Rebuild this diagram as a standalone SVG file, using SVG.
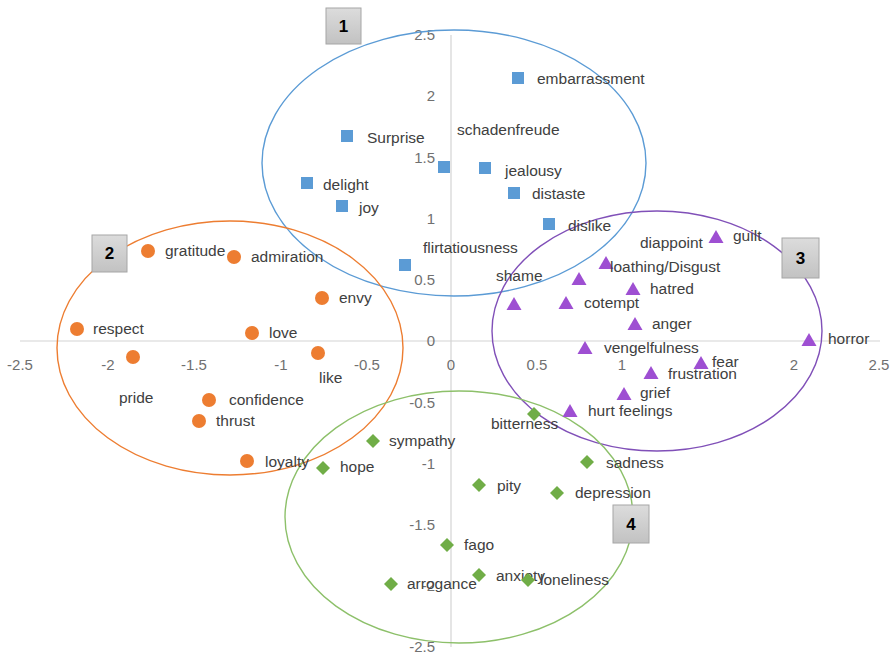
<svg xmlns="http://www.w3.org/2000/svg" xmlns:xlink="http://www.w3.org/1999/xlink" width="892" height="656" viewBox="0 0 892 656">
<style>
.lbl{font-family:"Liberation Sans",Arial,sans-serif;font-size:15.5px;fill:#404040}
.tick{font-family:"Liberation Sans",Arial,sans-serif;font-size:15px;fill:#707070}
.num{font-family:"Liberation Sans",Arial,sans-serif;font-size:17px;font-weight:bold;fill:#000;text-anchor:middle}
.ax{stroke:#d4d4d4;stroke-width:1.2;fill:none}
.ell{fill:none;stroke-width:1.4}
.box{fill:url(#g);stroke:#a6a6a6;stroke-width:1}
</style>
<defs>
<linearGradient id="g" x1="0" y1="0" x2="0" y2="1"><stop offset="0" stop-color="#dcdcdc"/><stop offset="1" stop-color="#c2c2c2"/></linearGradient>
<rect id="sq" x="-6" y="-6" width="12" height="12" fill="#5B9BD5"/>
<circle id="ci" r="7" fill="#ED7D31"/>
<path id="tr" d="M0,-7 L7.5,6 L-7.5,6 Z" fill="#9E4FD2"/>
<path id="di" d="M0,-7 L7,0 L0,7 L-7,0 Z" fill="#70AD47"/>
</defs>
<rect width="892" height="656" fill="#fff"/>
<g id="axes">
<line class="ax" x1="20" y1="341" x2="880" y2="341"/>
<line class="ax" x1="451" y1="35" x2="451" y2="647"/>
<g class="tick" text-anchor="middle">
<text x="20" y="370">-2.5</text><text x="108" y="370">-2</text><text x="194" y="370">-1.5</text><text x="281" y="370">-1</text><text x="367" y="370">-0.5</text><text x="451" y="370">0</text><text x="537" y="370">0.5</text><text x="622" y="370">1</text><text x="794" y="370">2</text><text x="879" y="370">2.5</text>
</g>
<g class="tick" text-anchor="end">
<text x="435" y="40">2.5</text><text x="435" y="101">2</text><text x="435" y="163">1.5</text><text x="435" y="224">1</text><text x="435" y="285">0.5</text><text x="435" y="346">0</text><text x="435" y="408">-0.5</text><text x="435" y="469">-1</text><text x="435" y="530">-1.5</text><text x="435" y="591">-2</text><text x="435" y="652">-2.5</text>
</g>
</g>
<g id="connectors">
<ellipse class="ell" cx="454" cy="163" rx="192" ry="133" stroke="#5B9BD5"/>
<ellipse class="ell" cx="230" cy="348" rx="173" ry="127" stroke="#ED7D31"/>
<ellipse class="ell" cx="657" cy="331" rx="165" ry="120" stroke="#8050B8"/>
<ellipse class="ell" cx="459" cy="517" rx="174" ry="126" stroke="#8DC06A"/>
</g>
<g id="cluster1">
<g id="n-embarrassment"><use xlink:href="#sq" x="518" y="78"/><text class="lbl" x="537" y="84">embarrassment</text></g>
<g id="n-surprise"><use xlink:href="#sq" x="347" y="136"/><text class="lbl" x="367" y="143">Surprise</text></g>
<g id="n-schadenfreude"><use xlink:href="#sq" x="444" y="167"/><text class="lbl" x="457" y="135">schadenfreude</text></g>
<g id="n-jealousy"><use xlink:href="#sq" x="485" y="168"/><text class="lbl" x="505" y="176">jealousy</text></g>
<g id="n-distaste"><use xlink:href="#sq" x="514" y="193"/><text class="lbl" x="532" y="199">distaste</text></g>
<g id="n-delight"><use xlink:href="#sq" x="307" y="183"/><text class="lbl" x="323" y="190">delight</text></g>
<g id="n-joy"><use xlink:href="#sq" x="342" y="206"/><text class="lbl" x="359" y="213">joy</text></g>
<g id="n-dislike"><use xlink:href="#sq" x="549" y="224"/><text class="lbl" x="568" y="231">dislike</text></g>
<g id="n-flirtatiousness"><use xlink:href="#sq" x="405" y="265"/><text class="lbl" x="423" y="253">flirtatiousness</text></g>
</g>
<g id="cluster2">
<g id="n-gratitude"><use xlink:href="#ci" x="148" y="251"/><text class="lbl" x="165" y="256">gratitude</text></g>
<g id="n-admiration"><use xlink:href="#ci" x="234" y="257"/><text class="lbl" x="251" y="262">admiration</text></g>
<g id="n-respect"><use xlink:href="#ci" x="77" y="329"/><text class="lbl" x="93" y="334">respect</text></g>
<g id="n-love"><use xlink:href="#ci" x="252" y="333"/><text class="lbl" x="269" y="338">love</text></g>
<g id="n-pride"><use xlink:href="#ci" x="133" y="357"/><text class="lbl" x="119" y="403">pride</text></g>
<g id="n-confidence"><use xlink:href="#ci" x="209" y="400"/><text class="lbl" x="229" y="405">confidence</text></g>
<g id="n-thrust"><use xlink:href="#ci" x="199" y="421"/><text class="lbl" x="216" y="426">thrust</text></g>
<g id="n-envy"><use xlink:href="#ci" x="322" y="298"/><text class="lbl" x="339" y="303">envy</text></g>
<g id="n-like"><use xlink:href="#ci" x="318" y="353"/><text class="lbl" x="319" y="383">like</text></g>
<g id="n-loyalty"><use xlink:href="#ci" x="247" y="461"/><text class="lbl" x="265" y="467">loyalty</text></g>
</g>
<g id="cluster3">
<g id="n-guilt"><use xlink:href="#tr" x="716" y="237"/><text class="lbl" x="733" y="241">guilt</text></g>
<g id="n-diappoint"><use xlink:href="#tr" x="579" y="279"/><text class="lbl" x="640" y="248">diappoint</text></g>
<g id="n-loathing"><use xlink:href="#tr" x="606" y="263"/><text class="lbl" x="610" y="272">loathing/Disgust</text></g>
<g id="n-hatred"><use xlink:href="#tr" x="633" y="289"/><text class="lbl" x="650" y="294">hatred</text></g>
<g id="n-shame"><use xlink:href="#tr" x="514" y="304"/><text class="lbl" x="496" y="281">shame</text></g>
<g id="n-cotempt"><use xlink:href="#tr" x="566" y="303"/><text class="lbl" x="584" y="308">cotempt</text></g>
<g id="n-anger"><use xlink:href="#tr" x="635" y="324"/><text class="lbl" x="652" y="329">anger</text></g>
<g id="n-horror"><use xlink:href="#tr" x="809" y="340"/><text class="lbl" x="828" y="344">horror</text></g>
<g id="n-vengelfulness"><use xlink:href="#tr" x="585" y="348"/><text class="lbl" x="604" y="353">vengelfulness</text></g>
<g id="n-fear"><use xlink:href="#tr" x="701" y="363"/><text class="lbl" x="712" y="367">fear</text></g>
<g id="n-frustration"><use xlink:href="#tr" x="651" y="373"/><text class="lbl" x="668" y="379">frustration</text></g>
<g id="n-grief"><use xlink:href="#tr" x="624" y="394"/><text class="lbl" x="640" y="398">grief</text></g>
<g id="n-hurt"><use xlink:href="#tr" x="570" y="411"/><text class="lbl" x="588" y="416">hurt feelings</text></g>
</g>
<g id="cluster4">
<g id="n-bitterness"><use xlink:href="#di" x="534" y="414"/><text class="lbl" x="491" y="429">bitterness</text></g>
<g id="n-sympathy"><use xlink:href="#di" x="373" y="441"/><text class="lbl" x="389" y="446">sympathy</text></g>
<g id="n-hope"><use xlink:href="#di" x="323" y="468"/><text class="lbl" x="340" y="472">hope</text></g>
<g id="n-sadness"><use xlink:href="#di" x="587" y="462"/><text class="lbl" x="606" y="468">sadness</text></g>
<g id="n-pity"><use xlink:href="#di" x="479" y="485"/><text class="lbl" x="497" y="491">pity</text></g>
<g id="n-depression"><use xlink:href="#di" x="557" y="493"/><text class="lbl" x="575" y="498">depression</text></g>
<g id="n-fago"><use xlink:href="#di" x="447" y="545"/><text class="lbl" x="464" y="550">fago</text></g>
<g id="n-anxiety"><use xlink:href="#di" x="479" y="575"/><text class="lbl" x="496" y="581">anxiety</text></g>
<g id="n-arrogance"><use xlink:href="#di" x="391" y="584"/><text class="lbl" x="407" y="589">arrogance</text></g>
<g id="n-loneliness"><use xlink:href="#di" x="528" y="580"/><text class="lbl" x="540" y="585">loneliness</text></g>
</g>
<g id="box1"><rect class="box" x="326" y="8" width="35" height="36"/><text class="num" x="343.5" y="32">1</text></g>
<g id="box2"><rect class="box" x="92" y="235" width="35" height="37"/><text class="num" x="109.5" y="259">2</text></g>
<g id="box3"><rect class="box" x="782" y="238" width="37" height="40"/><text class="num" x="800.5" y="264">3</text></g>
<g id="box4"><rect class="box" x="613" y="505" width="36" height="38"/><text class="num" x="631" y="530">4</text></g>
</svg>
